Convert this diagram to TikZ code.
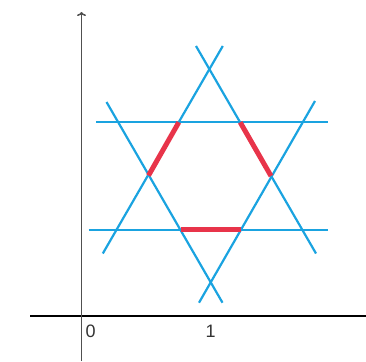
\documentclass[tikz,border=0pt]{standalone}
\usepackage{fontspec}
\setmainfont{Liberation Sans}
\usetikzlibrary{arrows.meta}
\definecolor{starblue}{HTML}{1AA3E0}
\definecolor{hexred}{HTML}{E8344A}
\definecolor{axisgray}{HTML}{505050}
\begin{document}
\begin{tikzpicture}[x=1pt,y=-1pt,
  axisline/.style={draw=axisgray,line width=1.5pt},
  starline/.style={draw=starblue,line width=2.2pt},
  hexedge/.style={draw=hexred,line width=5pt},
  ticklabel/.style={font=\fontsize{18}{20}\selectfont,text=black!80,inner sep=0pt}]
\useasboundingbox (0,0) rectangle (366,361);
% axes
\coordinate (yb) at (81.5,361);
\coordinate (yt) at (81.5,12);
\coordinate (xl) at (30,316);
\coordinate (xr) at (366,316);
\draw[draw=black,line width=1.2pt] (xl) -- (xr);
\draw[axisline,-{To[length=4pt,width=9pt]}] (yb) -- (yt);
\node[ticklabel] (l0) at (90.7,331) {0};
\node[ticklabel] (l1) at (210.7,331) {1};
% star lines
\coordinate (h1a) at (96,122.3);  \coordinate (h1b) at (328,122.3);
\coordinate (h2a) at (88.5,229.7); \coordinate (h2b) at (328,229.7);
\coordinate (u1a) at (102.8,253.5); \coordinate (u1b) at (222.8,46);
\coordinate (u2a) at (316,253.5);   \coordinate (u2b) at (196,46);
\coordinate (d1a) at (106.5,102);   \coordinate (d1b) at (222.5,302.7);
\coordinate (d2a) at (315,101);     \coordinate (d2b) at (199,302.7);
\draw[starline] (h1a) -- (h1b);
\draw[starline] (h2a) -- (h2b);
\draw[starline] (u1a) -- (u1b);
\draw[starline] (u2a) -- (u2b);
\draw[starline] (d1a) -- (d1b);
\draw[starline] (d2a) -- (d2b);
% hexagon vertices
\coordinate (vtl) at (178.8,122.3);
\coordinate (vtr) at (240.2,122.3);
\coordinate (vl) at (148.5,175.5);
\coordinate (vr) at (271,176);
\coordinate (vbl) at (180.5,229.7);
\coordinate (vbr) at (240.8,229.7);
\draw[hexedge] (vtl) -- (vl);
\draw[hexedge] (vtr) -- (vr);
\draw[hexedge] (vbl) -- (vbr);
\end{tikzpicture}
\end{document}
